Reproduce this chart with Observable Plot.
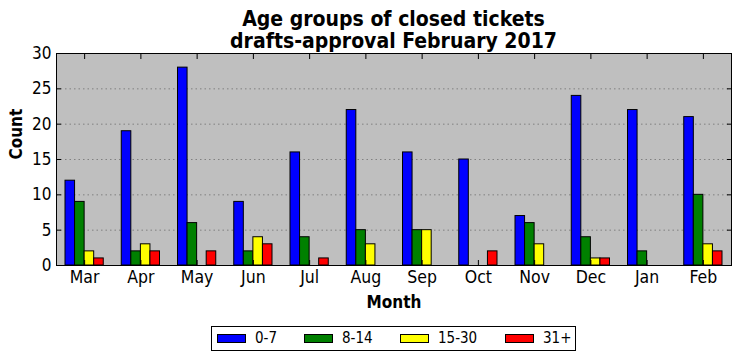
<!DOCTYPE html>
<html>
<head>
<meta charset="utf-8">
<script src="https://cdn.jsdelivr.net/npm/d3@7"></script>
<script src="https://cdn.jsdelivr.net/npm/@observablehq/plot@0.6"></script>
<style>
  html, body { margin: 0; padding: 0; background: #fff; }
  #wrap { position: relative; width: 741px; height: 361px; font-family: "DejaVu Sans Condensed", "DejaVu Sans", sans-serif; }
  .tl { position: absolute; left: 56px; width: 675px; text-align: center; font-weight: bold; font-size: 21px; line-height: 21px; height: 21px; color: #000; white-space: nowrap; }
  #chart { position: absolute; left: 0; top: 35px; }
  #legend { position: absolute; left: 211px; top: 326px; width: 363px; height: 23px; border: 1px solid #000; font-size: 15px; box-sizing: content-box; }
  .sw { position: absolute; top: 7px; width: 27px; height: 7px; border: 1px solid #000; }
  .lt { position: absolute; top: 1px; line-height: 20px; white-space: nowrap; }
</style>
</head>
<body>
<div id="wrap">
  <div class="tl" style="top: 9px;">Age groups of closed tickets</div>
  <div class="tl" style="top: 31px;">drafts-approval February 2017</div>
  <div id="chart"></div>
  <div id="legend"></div>
</div>
<script>
const months = ["Mar","Apr","May","Jun","Jul","Aug","Sep","Oct","Nov","Dec","Jan","Feb"];
const groups = ["0-7","8-14","15-30","31+"];
const colors = ["#0000ff","#008000","#ffff00","#ff0000"];
const v0_7   = [12,19,28, 9,16,22,16,15, 7,24,22,21];
const v8_14  = [ 9, 2, 6, 2, 4, 5, 5, 0, 6, 4, 2,10];
const v15_30 = [ 2, 3, 0, 4, 0, 3, 5, 0, 3, 1, 0, 3];
const v31    = [ 1, 2, 2, 3, 1, 0, 0, 2, 0, 1, 0, 2];
const yTicks = [0,5,10,15,20,25,30];

const series = [v0_7, v8_14, v15_30, v31];
const W = 0.17;
const rows = [];
months.forEach((m, i) => {
  series.forEach((s, k) => {
    rows.push({i, month: m, group: groups[k], k, value: s[i]});
  });
});
const xt = d3.range(months.length);
const FONT = "DejaVu Sans Condensed, DejaVu Sans, sans-serif";

const chart = Plot.plot({
  width: 741,
  height: 278,
  marginLeft: 56,
  marginRight: 10,
  marginTop: 18,
  marginBottom: 48,
  style: {fontFamily: FONT, fontSize: "17px", background: "transparent"},
  x: {domain: [-0.5, 11.5]},
  y: {domain: [0, 30]},
  color: {domain: groups, range: colors},
  marks: [
    Plot.frame({fill: "#bfbfbf"}),
    Plot.gridY(yTicks.slice(1, -1), {stroke: "#666", strokeOpacity: 0.7, strokeDasharray: "1.5,3"}),
    Plot.rectY(rows, {
      x1: d => d.i - 2 * W + d.k * W,
      x2: d => d.i - 2 * W + (d.k + 1) * W,
      y1: 0,
      y2: "value",
      fill: "group",
      stroke: "black",
      strokeWidth: 1
    }),
    Plot.frame({stroke: "black", strokeWidth: 1}),
    Plot.axisX(xt, {anchor: "bottom", tickSize: 0, tickPadding: 5, tickFormat: i => months[i], label: null, fontSize: 17.5}),
    Plot.axisX(xt, {anchor: "bottom", tickSize: -5, tickFormat: () => "", label: null}),
    Plot.axisX(xt, {anchor: "top", tickSize: -5, tickFormat: () => "", label: null}),
    Plot.axisY(yTicks, {anchor: "left", tickSize: 0, tickPadding: 5, label: null, fontSize: 17}),
    Plot.axisY(yTicks, {anchor: "left", tickSize: -5, tickFormat: () => "", label: null}),
    Plot.axisY(yTicks, {anchor: "right", tickSize: -5, tickFormat: () => "", label: null}),
    Plot.text(["Count"], {frameAnchor: "left", dx: -40, rotate: -90, fontWeight: "bold", fontSize: 17}),
    Plot.text(["Month"], {frameAnchor: "bottom", dy: 42, fontWeight: "bold", fontSize: 17})
  ]
});
document.getElementById("chart").appendChild(chart);

const legend = document.getElementById("legend");
const swLeft = [5, 92, 188, 293];
groups.forEach((g, k) => {
  const sw = document.createElement("div");
  sw.className = "sw";
  sw.style.left = swLeft[k] + "px";
  sw.style.background = colors[k];
  const tx = document.createElement("div");
  tx.className = "lt";
  tx.style.left = (swLeft[k] + 38) + "px";
  tx.textContent = g;
  legend.appendChild(sw);
  legend.appendChild(tx);
});
</script>
</body>
</html>
